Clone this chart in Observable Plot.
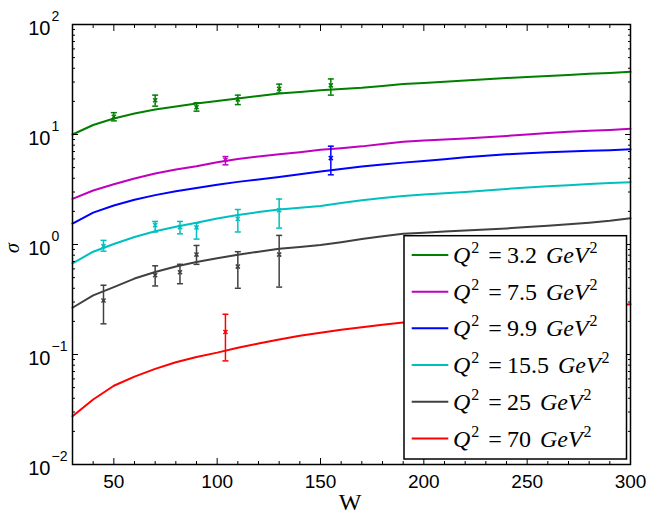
<!DOCTYPE html>
<html>
<head>
<meta charset="utf-8">
<script src="https://cdn.jsdelivr.net/npm/d3@7"></script>
<script src="https://cdn.jsdelivr.net/npm/@observablehq/plot@0.6"></script>
<style>
  html, body { margin: 0; padding: 0; background: white; overflow: hidden; }
</style>
</head>
<body>
<script>
// ---- data ----
const W = [30,40,50,60,70,80,90,100,110,120,130,140,150,160,170,180,190,200,210,220,230,240,250,260,270,280,290,300];
const q32  = [10.0,12.2,14.0,15.5,16.9,18.0,19.1,20.2,21.2,22.4,23.6,24.3,25.2,25.9,26.6,27.6,28.8,29.4,30.2,31.0,31.8,32.6,33.4,34.1,34.8,35.6,36.3,37.1];
const q75  = [2.6,3.1,3.53,3.98,4.42,4.8,5.15,5.6,6.0,6.3,6.6,6.9,7.25,7.5,7.8,8.2,8.6,8.8,9.0,9.2,9.45,9.7,10.0,10.3,10.6,10.8,11.0,11.3];
const q99  = [1.55,1.95,2.26,2.55,2.81,3.05,3.27,3.5,3.71,3.9,4.1,4.35,4.6,4.85,5.13,5.35,5.55,5.75,5.95,6.2,6.4,6.6,6.75,6.9,7.0,7.1,7.2,7.33];
const q155 = [0.675,0.86,1.01,1.17,1.32,1.45,1.58,1.72,1.85,1.97,2.08,2.16,2.24,2.38,2.53,2.65,2.76,2.85,2.93,3.0,3.1,3.2,3.3,3.38,3.46,3.54,3.62,3.69];
const q25  = [0.266,0.345,0.41,0.49,0.562,0.63,0.692,0.75,0.807,0.86,0.915,0.95,0.99,1.05,1.12,1.19,1.25,1.28,1.31,1.34,1.37,1.40,1.44,1.48,1.53,1.58,1.64,1.73];
const q70  = [0.0275,0.039,0.052,0.063,0.074,0.085,0.095,0.104,0.115,0.126,0.137,0.148,0.158,0.168,0.177,0.186,0.195,0.203,0.211,0.219,0.227,0.235,0.243,0.252,0.26,0.269,0.277,0.286];

const seriesNames = ["3.2","7.5","9.9","15.5","25","70"];
const seriesColors = ["#007f00","#bf00bf","#0000ff","#00bfbf","#404040","#ff0000"];

// measured points: [W, sigma, low, high]
const pts32  = [[50,14.5,13.3,15.8],[70,20.5,18.1,22.8],[90,17.7,16.3,19.4],[110,20.8,18.7,22.8],[130,26.0,23.8,28.7],[155,28.0,22.8,32.0]];
const pts75  = [[104,5.9,5.3,6.3]];
const pts99  = [[155,6.1,4.3,7.83]];
const pts155 = [[45,0.966,0.87,1.09],[70,1.50,1.30,1.62],[82,1.44,1.25,1.62],[90,1.43,1.12,1.57],[110,1.71,1.30,2.08],[130,2.05,1.41,2.59]];
const pts25  = [[45,0.31,0.19,0.426],[70,0.525,0.42,0.64],[82,0.56,0.44,0.66],[90,0.81,0.66,0.98],[110,0.63,0.40,0.86],[130,0.81,0.41,1.21]];
const pts70  = [[104,0.16,0.0875,0.232]];

const xMajor = [50,100,150,200,250,300];
const yMajor = [0.01,0.1,1,10,100];
const yExp = ["−2","−1","0","1","2"];

// ---- build tables ----
const curveSets = [q32,q75,q99,q155,q25,q70];
const pointSets = [pts32,pts75,pts99,pts155,pts25,pts70];
const curves = [];
curveSets.forEach((arr, i) => arr.forEach((v, j) => curves.push({W: W[j], s: v, k: seriesNames[i]})));
const points = [];
pointSets.forEach((arr, i) => arr.forEach(p => points.push({W: p[0], s: p[1], lo: p[2], hi: p[3], k: seriesNames[i]})));

const xMinor = d3.range(40, 300, 10).filter(v => v % 50 !== 0);
const yMinor = [];
[0.01,0.1,1,10].forEach(d => { for (let m = 2; m <= 9; m++) yMinor.push(d*m); });
const yTicks = yMajor.map((v, i) => ({v, e: yExp[i]}));

const capSymbol = { draw(ctx, size) { const r = Math.sqrt(size / Math.PI); ctx.moveTo(-r, 0); ctx.lineTo(r, 0); } };

const plot = Plot.plot({
  width: 658, height: 519,
  marginLeft: 72, marginRight: 28, marginTop: 24, marginBottom: 55,
  style: {fontFamily: "'Liberation Sans', Arial, sans-serif", fontSize: "19px", background: "white", color: "black"},
  x: {domain: [30, 300], label: null},
  y: {type: "log", domain: [0.01, 100], label: null},
  color: {domain: seriesNames, range: seriesColors},
  marks: [
    Plot.line(curves, {x: "W", y: "s", z: "k", stroke: "k", strokeWidth: 2}),
    Plot.ruleX(points, {x: "W", y1: "lo", y2: "hi", stroke: "k", strokeWidth: 1.5}),
    Plot.dot(points, {x: "W", y: "lo", stroke: "k", symbol: capSymbol, r: 3, strokeWidth: 1.5}),
    Plot.dot(points, {x: "W", y: "hi", stroke: "k", symbol: capSymbol, r: 3, strokeWidth: 1.5}),
    Plot.dot(points, {x: "W", y: "s", stroke: "k", symbol: "times", r: 2, strokeWidth: 1.5}),
    // x ticks (inward)
    Plot.axisX({anchor: "bottom", ticks: xMajor, tickSize: -6, tickFormat: () => "", label: null}),
    Plot.axisX({anchor: "bottom", ticks: xMinor, tickSize: -3, tickFormat: () => "", label: null}),
    Plot.axisX({anchor: "top", ticks: xMajor, tickSize: -6, tickFormat: () => "", label: null}),
    Plot.axisX({anchor: "top", ticks: xMinor, tickSize: -3, tickFormat: () => "", label: null}),
    Plot.axisX({anchor: "bottom", ticks: xMajor, tickSize: 0, tickPadding: 10, tickFormat: d => String(d), label: null}),
    // y ticks (inward)
    Plot.axisY({anchor: "left", ticks: yMajor, tickSize: -6, tickFormat: () => "", label: null}),
    Plot.axisY({anchor: "left", ticks: yMinor, tickSize: -3, tickFormat: () => "", label: null}),
    Plot.axisY({anchor: "right", ticks: yMajor, tickSize: -6, tickFormat: () => "", label: null}),
    Plot.axisY({anchor: "right", ticks: yMinor, tickSize: -3, tickFormat: () => "", label: null}),
    // y tick labels 10^n
    Plot.text(yTicks, {x: () => 30, y: "v", text: () => "10", textAnchor: "end", dx: -22, dy: 3.6, fontSize: 20}),
    Plot.text(yTicks, {x: () => 30, y: "v", text: "e", textAnchor: "start", dx: -21, dy: -7.5, fontSize: 14}),
    Plot.frame({stroke: "black", strokeWidth: 1.5})
  ]
});
document.body.append(plot);

// ---- axis titles & legend ----
const svg = d3.select(plot);
const serif = "'Liberation Serif', 'Times New Roman', serif";
svg.append("text").attr("x", 350).attr("y", 510).attr("text-anchor", "middle")
  .attr("style", `font-family:${serif};font-size:24px;`).text("W");
svg.append("text").attr("transform", "translate(19,248) rotate(-90)").attr("text-anchor", "middle")
  .attr("style", `font-family:${serif};font-size:20px;font-style:italic;`).text("σ");

const lg = svg.append("g").attr("text-anchor", "start");
lg.append("rect").attr("x", 404).attr("y", 235.7).attr("width", 222.5).attr("height", 223.3)
  .attr("fill", "white").attr("stroke", "black").attr("stroke-width", 1.5);
const rowY = [255, 291.7, 328.3, 365, 401.7, 438.5];
seriesNames.forEach((name, i) => {
  const y = rowY[i];
  lg.append("line").attr("x1", 411.7).attr("x2", 448.3).attr("y1", y).attr("y2", y)
    .attr("stroke", seriesColors[i]).attr("stroke-width", 2);
  const t = lg.append("text").attr("x", 453).attr("y", y + 8)
    .attr("style", `font-family:${serif};font-size:24px;fill:black;text-anchor:start;`);
  t.append("tspan").attr("style", "font-style:italic;").text("Q");
  t.append("tspan").attr("dx", 1).attr("dy", -10).attr("style", "font-size:16px;").text("2");
  t.append("tspan").attr("dx", 9).attr("dy", 10).text("=");
  t.append("tspan").attr("dx", 5).text(name);
  t.append("tspan").attr("dx", 9).attr("style", "font-style:italic;").text("GeV");
  t.append("tspan").attr("dx", 1).attr("dy", -10).attr("style", "font-size:16px;").text("2");
});
</script>
</body>
</html>
